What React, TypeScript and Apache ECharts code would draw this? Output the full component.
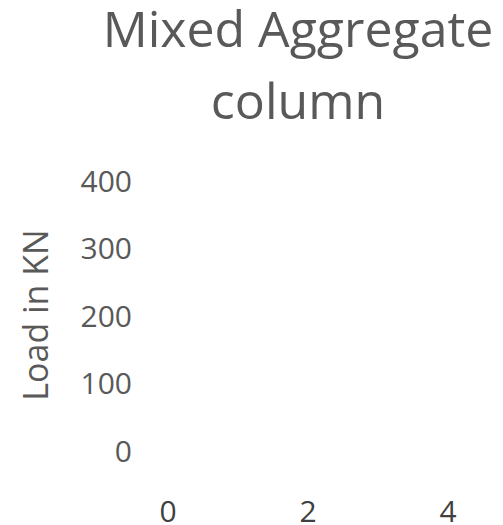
import React, { useEffect, useRef } from "react";
import * as echarts from "echarts";

const titleLines = ["Mixed Aggregate", "column"];
const yAxisTitle = "Load in KN";
const xTicks = [0, 2, 4];
const yTicks = [0, 100, 200, 300, 400];
const seriesX: number[] = [];
const seriesY: number[] = [];

export default function App() {
  const ref = useRef<HTMLDivElement>(null);
  useEffect(() => {
    if (!ref.current) return;
    const chart = echarts.init(ref.current, undefined, { renderer: "svg" });
    const font = "'Open Sans', 'Noto Sans', sans-serif";
    chart.setOption({
      animation: false,
      title: {
        text: titleLines.join("\n"),
        left: 298,
        top: -8,
        padding: 0,
        textAlign: "center",
        textStyle: {
          fontFamily: font,
          fontSize: 50,
          fontWeight: "normal",
          color: "#595959",
          lineHeight: 72,
        },
      },
      grid: { left: 168, right: 55, top: 180, bottom: 74, containLabel: false },
      xAxis: {
        type: "value",
        min: xTicks[0],
        max: xTicks[xTicks.length - 1],
        interval: 2,
        axisLine: { show: false },
        axisTick: { show: false },
        splitLine: { show: false },
        axisLabel: { fontFamily: font, fontSize: 30, color: "#404040", margin: 45 },
      },
      yAxis: {
        type: "value",
        min: yTicks[0],
        max: yTicks[yTicks.length - 1],
        interval: 100,
        name: yAxisTitle,
        nameLocation: "middle",
        nameRotate: 90,
        nameGap: 133,
        nameTextStyle: { fontFamily: font, fontSize: 34, color: "#595959", verticalAlign: "middle" },
        axisLine: { show: false },
        axisTick: { show: false },
        splitLine: { show: false },
        axisLabel: { fontFamily: font, fontSize: 30, color: "#595959", margin: 36 },
      },
      series: [
        {
          type: "scatter",
          data: seriesX.map((x, i) => [x, seriesY[i]]),
        },
      ],
    });
    return () => chart.dispose();
  }, []);
  return <div ref={ref} style={{ width: 503, height: 525, position: "absolute", left: 0, top: 0 }} />;
}
